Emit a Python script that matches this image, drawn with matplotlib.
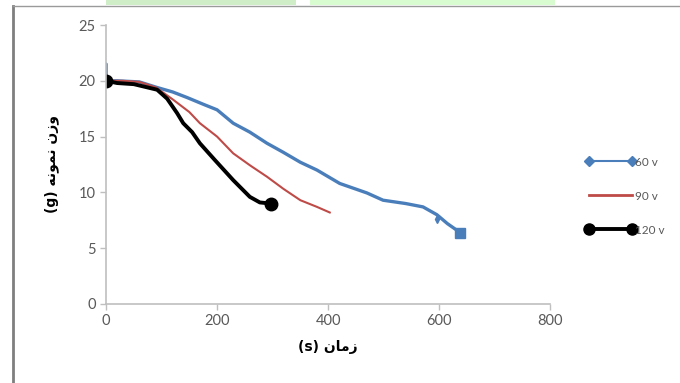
import numpy as np
import matplotlib.pyplot as plt
from matplotlib.lines import Line2D
from matplotlib.patches import Rectangle

# series (time in s, weight in g)
t_60 = [0, 0, 20, 60, 92, 120, 146, 175, 200, 229, 259, 290, 319, 350, 380, 421, 470, 499, 540, 571, 596, 615, 638]
w_60 = [21.5, 20.0, 20.0, 19.9, 19.4, 19.0, 18.5, 17.9, 17.4, 16.2, 15.4, 14.4, 13.6, 12.7, 12.0, 10.8, 9.95, 9.3, 9.0, 8.7, 8.0, 7.2, 6.4]

t_90 = [0, 30, 60, 90, 121, 150, 169, 200, 229, 260, 290, 320, 350, 380, 403]
w_90 = [20.0, 20.0, 19.9, 19.4, 18.3, 17.2, 16.2, 15.0, 13.5, 12.4, 11.4, 10.3, 9.3, 8.7, 8.2]

t_120 = [0, 20, 50, 92, 110, 128, 139, 155, 169, 196, 229, 259, 277, 297]
w_120 = [20.0, 19.8, 19.7, 19.2, 18.4, 17.1, 16.2, 15.4, 14.4, 12.9, 11.1, 9.6, 9.1, 9.0]

labels = ['60 v', '90 v', '120 v']
xticks = [0, 200, 400, 600, 800]
yticks = [0, 5, 10, 15, 20, 25]

# Persian labels, pre-shaped (visual order) since matplotlib has no RTL shaping
xlab = '(s) \ufee5\ufe8e\ufee3\ufeaf'                       # زمان (s)
ylab = '(g) \ufeea\ufee7\ufeee\ufee4\ufee7 \ufee5\ufeaf\ufeed'  # وزن نمونه (g)

blue = '#4a7ebb'
red = '#be4b48'
grey = '#595959'

fig = plt.figure(figsize=(6.8, 3.83), dpi=100)
ax = fig.add_axes([0.156, 0.2063, 0.653, 0.7284])

ax.plot(t_60, w_60, color=blue, linewidth=2.4, solid_capstyle='round', solid_joinstyle='round')
ax.plot(t_60[-1], w_60[-1], marker='s', color=blue, markersize=7)
ax.plot(t_60[-3], w_60[-3] - 0.4, marker='d', color=blue, markersize=4)
ax.plot(t_90, w_90, color=red, linewidth=1.5)
ax.plot(t_120, w_120, color='black', linewidth=2.8, solid_joinstyle='round')
ax.plot([t_120[0], t_120[-1]], [w_120[0], w_120[-1]], linestyle='none',
        marker='o', color='black', markersize=9)

ax.set_xlim(0, 800)
ax.set_ylim(0, 25)
ax.set_xticks(xticks)
ax.set_yticks(yticks)
for s in ['top', 'right']:
    ax.spines[s].set_visible(False)
for s in ['left', 'bottom']:
    ax.spines[s].set_color('#bfbfbf')
    ax.spines[s].set_linewidth(1.2)
ax.tick_params(colors='#bfbfbf', labelcolor=grey, labelsize=10.5, length=4, width=1)
for lb in ax.get_xticklabels() + ax.get_yticklabels():
    lb.set_family('Lato')

ax.set_xlabel(xlab, fontsize=10, fontweight='bold', family='DejaVu Sans', labelpad=8)
ax.set_ylabel(ylab, fontsize=10, fontweight='bold', family='DejaVu Sans', labelpad=14)

handles = [
    Line2D([0], [0], color=blue, linewidth=1.5, marker='D', markersize=5),
    Line2D([0], [0], color=red, linewidth=2),
    Line2D([0], [0], color='black', linewidth=2.8, marker='o', markersize=8),
]
leg = fig.legend(handles, labels, loc='upper left', bbox_to_anchor=(0.846, 0.619),
                 frameon=False, numpoints=2, handlelength=4.2, handletextpad=-0.05,
                 labelspacing=1.95, fontsize=8.5, labelcolor=grey)
for tx in leg.get_texts():
    tx.set_family('Lato')

# page borders and watermark from the scanned source
fig.add_artist(Line2D([13 / 680, 13 / 680], [0, 1 - 6 / 383], color='#7f7f7f', linewidth=2))
fig.add_artist(Line2D([13 / 680, 1], [1 - 6 / 383, 1 - 6 / 383], color='#9a9a9a', linewidth=1))
fig.add_artist(Rectangle((106 / 680, 1 - 5 / 383), 190 / 680, 5 / 383, color='#cfeec8', linewidth=0))
fig.add_artist(Rectangle((310 / 680, 1 - 5 / 383), 245 / 680, 5 / 383, color='#d9fbd0', linewidth=0))

fig.savefig('out.png', dpi=100)
